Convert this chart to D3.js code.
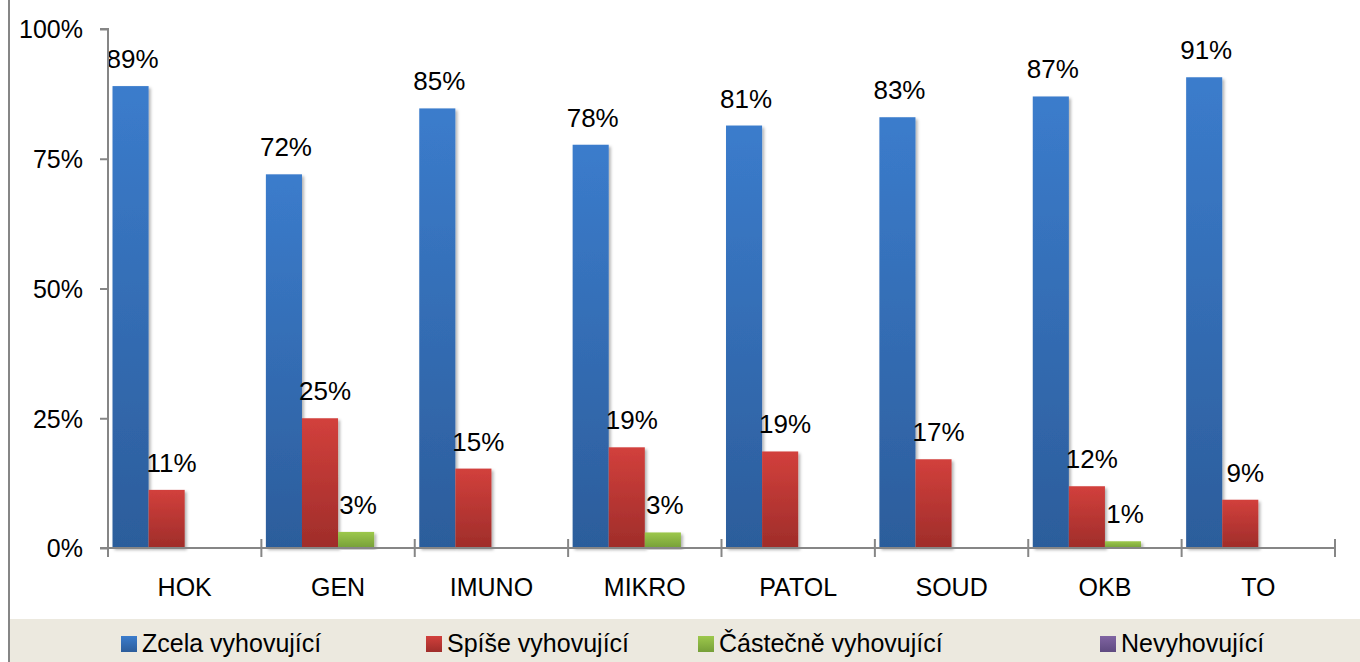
<!DOCTYPE html>
<meta charset="utf-8">
<script src="https://d3js.org/d3.v7.min.js"></script>
<style>
  body { margin: 0; background: #fff; }
  text { font-family: "Liberation Sans", Arial, sans-serif; fill: #000; }
</style>
<div id="chart"></div>
<script>
// data (percent)
var categories = ["HOK", "GEN", "IMUNO", "MIKRO", "PATOL", "SOUD", "OKB", "TO"];
var seriesNames = ["Zcela vyhovující", "Spíše vyhovující", "Částečně vyhovující", "Nevyhovující"];
var zcela   = [89.0, 72.0, 84.7, 77.7, 81.4, 83.0, 87.0, 90.7];
var spise   = [11.2, 25.0, 15.3, 19.4, 18.6, 17.1, 11.9, 9.3];
var castec  = [0, 3.1, 0, 3.0, 0, 0, 1.3, 0];
var nevyh   = [0, 0, 0, 0, 0, 0, 0, 0];
var yTicks  = [0, 25, 50, 75, 100];

var values = [zcela, spise, castec, nevyh];
var colorsTop = ["#3b7ccc", "#d2403c", "#9dc84c", "#8064a2"];
var colorsBot = ["#2c5d9b", "#9f2d2a", "#769f38", "#5f4a80"];

var W = 1360, H = 662;
var margin = {top: 29, left: 108, right: 25, bottom: 114};

var svg = d3.select("#chart").append("svg")
  .attr("width", W).attr("height", H);

var defs = svg.append("defs");
seriesNames.forEach(function(s, i) {
  var g = defs.append("linearGradient").attr("id", "grad" + i)
    .attr("x1", 0).attr("y1", 0).attr("x2", 0).attr("y2", 1);
  g.append("stop").attr("offset", "0%").attr("stop-color", colorsTop[i]);
  g.append("stop").attr("offset", "100%").attr("stop-color", colorsBot[i]);
});
var f = defs.append("filter").attr("id", "shadow")
  .attr("x", "-20%").attr("y", "-5%").attr("width", "150%").attr("height", "115%");
f.append("feDropShadow").attr("dx", 2).attr("dy", 2).attr("stdDeviation", 1.5)
  .attr("flood-color", "#000").attr("flood-opacity", 0.3);

// outer frame bits
svg.append("rect").attr("x", 10).attr("y", 619).attr("width", W - 10).attr("height", H - 619)
  .attr("fill", "#ece9df");
svg.append("line").attr("x1", 9).attr("x2", 9).attr("y1", 0).attr("y2", H)
  .attr("stroke", "#868686").attr("stroke-width", 2);

var y = d3.scaleLinear().domain([0, 100]).range([548, 29]);
var x0 = d3.scaleBand().domain(categories).range([margin.left, 1335]);
var x1 = d3.scaleBand().domain(d3.range(seriesNames.length))
  .range([0, x0.bandwidth()]).paddingInner(0).paddingOuter(0.125);

var grey = "#868686";

// bars
var groups = svg.append("g").selectAll("g")
  .data(categories).enter().append("g")
  .attr("transform", function(d) { return "translate(" + x0(d) + ",0)"; });

groups.selectAll("rect")
  .data(function(d, ci) { return values.map(function(v, si) { return {s: si, v: v[ci]}; }); })
  .enter().filter(function(d) { return d.v > 0; }).append("rect")
    .attr("x", function(d) { return x1(d.s); })
    .attr("width", x1.bandwidth())
    .attr("y", function(d) { return y(d.v); })
    .attr("height", function(d) { return y(0) - y(d.v); })
    .attr("fill", function(d) { return "url(#grad" + d.s + ")"; })
    .attr("filter", "url(#shadow)");

groups.selectAll("text.lbl")
  .data(function(d, ci) { return values.map(function(v, si) { return {s: si, v: v[ci]}; }); })
  .enter().filter(function(d) { return d.v > 0; }).append("text")
    .attr("class", "lbl")
    .attr("x", function(d) { return x1(d.s) + x1.bandwidth() / 2 + (d.s == 1 ? 5 : 2); })
    .attr("y", function(d) { return y(d.v) - 18; })
    .attr("text-anchor", "middle")
    .style("font-size", "26px")
    .text(function(d) { return Math.round(d.v) + "%"; });

// y axis
var yAxis = svg.append("g")
  .attr("transform", "translate(" + margin.left + ",0)")
  .call(d3.axisLeft(y).tickValues(yTicks).tickSize(8).tickPadding(17)
    .tickFormat(function(d) { return d + "%"; }));
yAxis.select(".domain").attr("stroke", grey).attr("stroke-width", 2)
  .attr("d", "M-8,29H0V557");
yAxis.selectAll(".tick line").attr("stroke", grey).attr("stroke-width", 2);
yAxis.selectAll(".tick text").style("font-size", "25px").attr("dy", "0.35em");

// x axis
var xAxis = svg.append("g")
  .attr("transform", "translate(0," + y(0) + ")")
  .call(d3.axisBottom(x0).tickSize(0).tickPadding(30));
xAxis.select(".domain").attr("stroke", grey).attr("stroke-width", 2)
  .attr("d", "M" + (margin.left - 8) + ",0H1335");
xAxis.selectAll(".tick text").style("font-size", "25px");
xAxis.selectAll(".bound")
  .data(categories.slice(1).concat(["end"])).enter().append("line")
  .attr("x1", function(d, i) { return i < categories.length - 1 ? x0(d) : x0.range()[1]; })
  .attr("x2", function(d, i) { return i < categories.length - 1 ? x0(d) : x0.range()[1]; })
  .attr("y1", -9).attr("y2", 9)
  .attr("stroke", grey).attr("stroke-width", 2);

// legend
var legX = [121, 426, 698, 1100];
var leg = svg.append("g").selectAll("g")
  .data(seriesNames).enter().append("g")
  .attr("transform", function(d, i) { return "translate(" + legX[i] + ",636)"; });
leg.append("rect").attr("width", 16).attr("height", 16)
  .attr("fill", function(d, i) { return "url(#grad" + i + ")"; });
leg.append("text").attr("x", 21).attr("y", 16)
  .style("font-size", "25px")
  .text(function(d) { return d; });
</script>
